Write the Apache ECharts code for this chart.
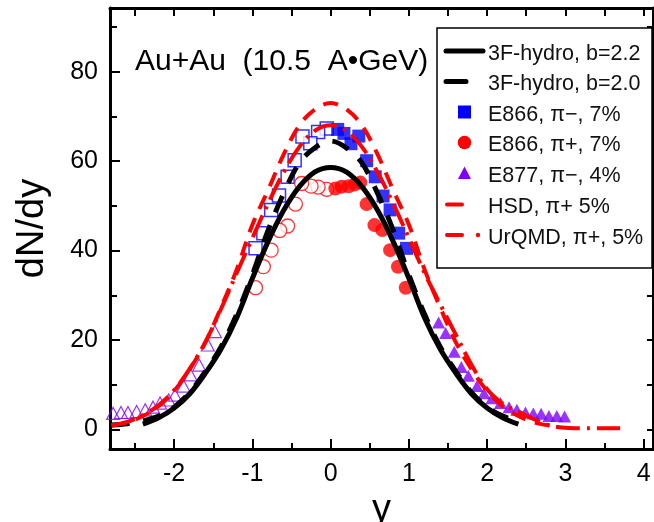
<!DOCTYPE html>
<html><head><meta charset="utf-8">
<script src="https://cdn.jsdelivr.net/npm/echarts@6/dist/echarts.min.js"></script>
<style>html,body{margin:0;padding:0;background:#fff}#c{width:654px;height:522px}</style>
</head><body><div id="c"></div>
<script>
const FONT = '"Liberation Sans", Arial, sans-serif';

// ---- tick labels / tick positions ----
const xMajorTicks = [-2, -1, 0, 1, 2, 3, 4];
const xMinorTicks = [-2.5, -1.5, -0.5, 0.5, 1.5, 2.5, 3.5];
const xTopTicks = [-2.5, -2, -1.5, -1, -0.5, 0, 0.5, 1, 1.5, 2, 2.5, 3, 3.5, 4];
const yMajorTicks = [0, 20, 40, 60, 80];
const yMinorTicks = [10, 30, 50, 70, 90];
const yRightTicks = [0, 10, 20, 30, 40, 50, 60, 70, 80, 90];

// ---- 3F-hydro, b=2.2 (solid) ----
const hydro22X = [-2.4,-2.2,-2.0,-1.8,-1.6,-1.4,-1.2,-1.0,-0.8,-0.6,-0.4,-0.2,0,0.2,0.4,0.6,0.8,1.0,1.2,1.4,1.6,1.8,2.0,2.2,2.4];
const hydro22Y = [1.2,2.6,4.8,8.0,12.6,18.0,25.0,33.8,42.0,49.0,54.3,57.6,58.6,57.6,54.3,49.0,42.0,33.8,25.0,18.0,12.6,8.0,4.8,2.6,1.2];

// ---- 3F-hydro, b=2.0 (dashed) ----
const hydro20X = [-2.8,-2.6,-2.4,-2.2,-2.0,-1.8,-1.6,-1.4,-1.2,-1.0,-0.8,-0.6,-0.4,-0.2,0,0.2,0.4,0.6,0.8,1.0,1.2,1.4,1.6,1.8,2.0,2.2,2.4];
const hydro20Y = [1.0,1.3,1.9,3.0,5.0,8.3,13.0,18.5,25.8,34.6,44.5,52.8,59.6,63.0,64.5,63.0,59.6,52.8,44.5,34.6,25.8,18.5,13.0,8.3,5.0,3.0,1.9];

// ---- HSD, pi+ 5% (dashed red) ----
const hsdX = [-2.8,-2.6,-2.4,-2.2,-2.0,-1.8,-1.6,-1.4,-1.2,-1.0,-0.8,-0.6,-0.4,-0.2,0,0.2,0.4,0.6,0.8,1.0,1.2,1.4,1.6,1.8,2.0,2.2,2.4,2.6,2.8];
const hsdY = [0.9,1.6,3.0,5.2,8.6,13.5,19.5,27.3,35.8,45.8,53.5,61.5,68.0,71.6,73.0,71.6,68.0,61.5,53.5,45.8,35.8,27.3,19.5,13.5,8.6,5.2,3.0,1.6,0.9];

// ---- UrQMD, pi+ 5% (dash-dot red) ----
const urqmdX = [-2.8,-2.6,-2.4,-2.2,-2.0,-1.8,-1.6,-1.4,-1.2,-1.0,-0.8,-0.6,-0.4,-0.2,0,0.2,0.4,0.6,0.8,1.0,1.2,1.4,1.6,1.8,2.0,2.2,2.4,2.6,2.8,3.0,3.2,3.4,3.7];
const urqmdY = [0.9,1.7,3.2,5.4,8.8,13.6,19.6,27.0,35.0,42.8,50.5,57.5,63.2,66.8,68.0,66.8,63.2,57.5,50.5,42.8,35.0,28.0,21.2,14.5,9.0,5.8,4.0,2.3,0.9,0.4,0.3,0.3,0.3];

// ---- E866, pi-, 7% (filled: measured, open: reflected) ----
const e866MinusX = [0.09,0.17,0.26,0.36,0.46,0.57,0.67,0.76,0.87,0.97];
const e866MinusY = [67.1,66.2,63.9,65.6,60.1,56.5,52.2,49.1,43.9,40.5];
const e866MinusReflX = [-0.05,-0.16,-0.26,-0.36,-0.46,-0.55,-0.66,-0.76,-0.86,-0.96];
const e866MinusReflY = [67.3,66.5,64.0,65.5,60.2,56.5,52.3,49.1,43.9,40.5];

// ---- E866, pi+, 7% ----
const e866PlusX = [0.06,0.14,0.23,0.31,0.38,0.46,0.56,0.66,0.76,0.86,0.96];
const e866PlusY = [53.9,54.3,54.4,54.8,55.2,50.4,45.7,44.6,40.1,36.4,31.7];
const e866PlusReflX = [-0.05,-0.16,-0.25,-0.37,-0.45,-0.55,-0.65,-0.76,-0.86,-0.96];
const e866PlusReflY = [53.7,54.2,54.4,55.0,50.4,45.5,44.5,40.1,36.4,31.7];

// ---- E877, pi-, 4% ----
const e877X = [1.38,1.47,1.58,1.67,1.76,1.87,1.96,2.06,2.17,2.28,2.38,2.49,2.59,2.69,2.79,2.89,2.99];
const e877Y = [23.9,21.6,17.4,14.0,12.0,9.7,8.1,7.0,5.9,5.0,4.4,3.8,3.6,3.5,3.0,3.0,2.9];
const e877ReflX = [-1.48,-1.57,-1.68,-1.79,-1.88,-1.99,-2.07,-2.18,-2.27,-2.37,-2.48,-2.59,-2.68,-2.78];
const e877ReflY = [21.9,18.9,14.4,12.2,9.7,7.7,6.6,5.9,5.0,4.4,4.0,3.8,3.8,3.6];

const titleText = 'Au+Au  (10.5  A\u2022GeV)';
const legendLabels = ['3F-hydro, b=2.2','3F-hydro, b=2.0','E866, \u03c0\u2212, 7%','E866, \u03c0+, 7%','E877, \u03c0\u2212, 4%','HSD, \u03c0+ 5%','UrQMD, \u03c0+, 5%'];

const pairs = (xs, ys) => xs.map((v, i) => [v, ys[i]]);

const X_MIN = -2.82, X_MAX = 4.12, Y_MIN = -4.36, Y_MAX = 94.24;
const BLUE = '#0000ff', RED = '#ff0000', PURPLE = '#8000ff';

function xAx(extra) {
  return Object.assign({
    type: 'value', min: X_MIN, max: X_MAX, splitLine: { show: false },
    axisLine: { show: true, onZero: false, lineStyle: { color: '#000', width: 3 } },
    axisLabel: { show: false }, axisTick: { show: false }
  }, extra);
}
function yAx(extra) {
  return Object.assign({
    type: 'value', min: Y_MIN, max: Y_MAX, splitLine: { show: false },
    axisLine: { show: true, onZero: false, lineStyle: { color: '#000', width: 3 } },
    axisLabel: { show: false }, axisTick: { show: false }
  }, extra);
}

const chart = echarts.init(document.getElementById('c'), null, { renderer: 'canvas' });

const legendRows = [54, 84.5, 115, 145.5, 176.5, 207.5, 238];
const LX = 446, TX = 488;
const graphic = [
  { type: 'rect', shape: { x: 437, y: 28, width: 215, height: 240 }, style: { fill: '#fff', stroke: '#000', lineWidth: 1.5 }, z: 10 },
  { type: 'line', shape: { x1: LX, y1: legendRows[0] - 3, x2: 483, y2: legendRows[0] - 3 }, style: { stroke: '#000', lineWidth: 5, lineCap: 'round' }, z: 11 },
  { type: 'line', shape: { x1: LX, y1: legendRows[1] - 3, x2: 466, y2: legendRows[1] - 3 }, style: { stroke: '#000', lineWidth: 5, lineCap: 'round' }, z: 11 },
  { type: 'rect', shape: { x: 458, y: legendRows[2] - 9.5, width: 13, height: 13 }, style: { fill: BLUE }, z: 11 },
  { type: 'circle', shape: { cx: 464.5, cy: legendRows[3] - 3, r: 6.8 }, style: { fill: RED }, z: 11 },
  { type: 'polygon', shape: { points: [[464.5, legendRows[4] - 10], [458, legendRows[4] + 2.5], [471, legendRows[4] + 2.5]] }, style: { fill: PURPLE }, z: 11 },
  { type: 'line', shape: { x1: 447, y1: legendRows[5] - 3, x2: 462, y2: legendRows[5] - 3 }, style: { stroke: RED, lineWidth: 4, lineCap: 'round' }, z: 11 },
  { type: 'line', shape: { x1: 447, y1: legendRows[6] - 3, x2: 462, y2: legendRows[6] - 3 }, style: { stroke: RED, lineWidth: 4, lineCap: 'round' }, z: 11 },
  { type: 'circle', shape: { cx: 478, cy: legendRows[6] - 3, r: 2.2 }, style: { fill: RED }, z: 11 },
  { type: 'text', x: 135, y: 62, style: { text: titleText, font: '30px ' + FONT, fill: '#000', verticalAlign: 'middle' }, z: 11 }
];
legendLabels.forEach((t, i) => {
  graphic.push({ type: 'text', x: TX, y: legendRows[i], style: { text: t, font: '21.5px ' + FONT, fill: '#111', verticalAlign: 'middle' }, z: 11 });
});

const lineBase = { type: 'line', showSymbol: false, symbol: 'none', smooth: 0.35, xAxisIndex: 0, yAxisIndex: 0, animation: false, silent: true };

chart.setOption({
  animation: false,
  backgroundColor: '#fff',
  grid: { left: 110, right: 1, top: 8, bottom: 73, containLabel: false, outerBoundsMode: 'none' },
  xAxis: [
    xAx({ position: 'bottom', name: 'y', nameLocation: 'middle', nameGap: 27,
      nameTextStyle: { fontFamily: FONT, fontSize: 38, color: '#000' },
      axisTick: { show: true, inside: true, length: 10, lineStyle: { color: '#000', width: 2 }, customValues: xMajorTicks },
      axisLabel: { show: true, margin: 13, fontFamily: FONT, fontSize: 25, color: '#000', customValues: xMajorTicks, formatter: v => String(v) } }),
    xAx({ position: 'bottom', axisLine: { show: false, onZero: false },
      axisTick: { show: true, inside: true, length: 6, lineStyle: { color: '#000', width: 2 }, customValues: xMinorTicks } }),
    xAx({ position: 'top',
      axisTick: { show: true, inside: true, length: 8, lineStyle: { color: '#000', width: 2 }, customValues: xTopTicks } })
  ],
  yAxis: [
    yAx({ position: 'left', name: 'dN/dy', nameLocation: 'middle', nameGap: 58,
      nameTextStyle: { fontFamily: FONT, fontSize: 38, color: '#000' },
      axisTick: { show: true, inside: true, length: 10, lineStyle: { color: '#000', width: 2 }, customValues: yMajorTicks },
      axisLabel: { show: true, margin: 12, fontFamily: FONT, fontSize: 25, color: '#000', customValues: yMajorTicks } }),
    yAx({ position: 'left', axisLine: { show: false, onZero: false },
      axisTick: { show: true, inside: true, length: 7, lineStyle: { color: '#000', width: 2 }, customValues: yMinorTicks } }),
    yAx({ position: 'right',
      axisTick: { show: true, inside: true, length: 6, lineStyle: { color: '#000', width: 2 }, customValues: yRightTicks } })
  ],
  graphic: graphic,
  series: [
    Object.assign({}, lineBase, { name: '3F-hydro, b=2.2', data: pairs(hydro22X, hydro22Y), lineStyle: { color: '#000', width: 5 } }),
    Object.assign({}, lineBase, { name: '3F-hydro, b=2.0', data: pairs(hydro20X, hydro20Y), lineStyle: { color: '#000', width: 5, type: [18, 14] } }),
    { type: 'scatter', name: 'E866 pi- refl', data: pairs(e866MinusReflX, e866MinusReflY), symbol: 'rect', symbolSize: 13,
      itemStyle: { color: '#fff', borderColor: BLUE, borderWidth: 1.5 }, animation: false, silent: true },
    { type: 'scatter', name: 'E866, pi-, 7%', data: pairs(e866MinusX, e866MinusY), symbol: 'rect', symbolSize: 13,
      itemStyle: { color: BLUE }, animation: false, silent: true },
    { type: 'scatter', name: 'E866 pi+ refl', data: pairs(e866PlusReflX, e866PlusReflY), symbol: 'circle', symbolSize: 14,
      itemStyle: { color: '#fff', borderColor: RED, borderWidth: 1.3 }, animation: false, silent: true },
    { type: 'scatter', name: 'E866, pi+, 7%', data: pairs(e866PlusX, e866PlusY), symbol: 'circle', symbolSize: 14,
      itemStyle: { color: RED }, animation: false, silent: true },
    { type: 'scatter', name: 'E877 refl', data: pairs(e877ReflX, e877ReflY), symbol: 'triangle', symbolSize: [13, 12],
      itemStyle: { color: 'rgba(0,0,0,0)', borderColor: PURPLE, borderWidth: 1.2 }, animation: false, silent: true },
    { type: 'scatter', name: 'E877, pi-, 4%', data: pairs(e877X, e877Y), symbol: 'triangle', symbolSize: [13, 12],
      itemStyle: { color: PURPLE }, animation: false, silent: true },
    Object.assign({}, lineBase, { name: 'HSD, pi+ 5%', data: pairs(hsdX, hsdY), lineStyle: { color: RED, width: 4, type: [15, 10] } }),
    Object.assign({}, lineBase, { name: 'UrQMD, pi+, 5%', data: pairs(urqmdX, urqmdY), lineStyle: { color: RED, width: 4, type: [24, 7, 3, 7] } })
  ]
});
</script>
</body></html>
